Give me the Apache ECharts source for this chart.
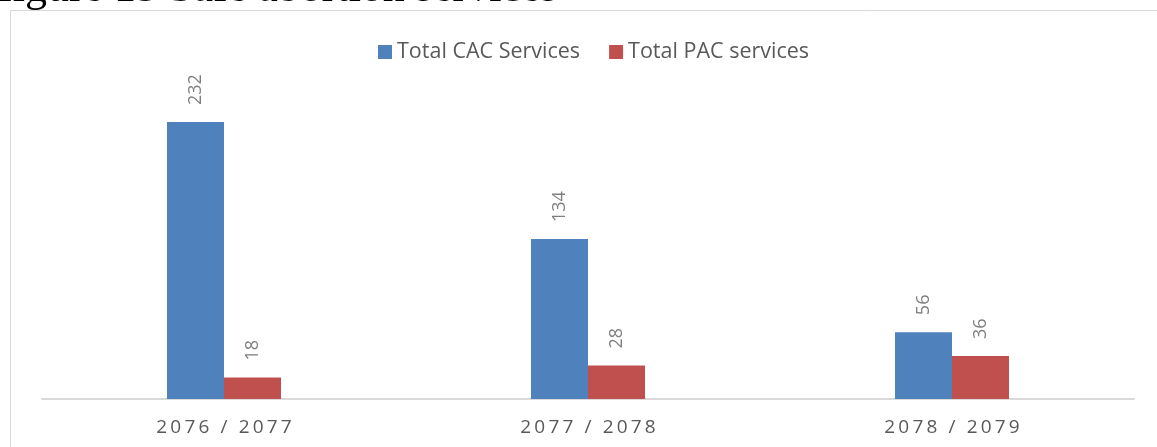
<!DOCTYPE html>
<html>
<head>
<meta charset="utf-8">
<script src="https://cdn.jsdelivr.net/npm/echarts@6/dist/echarts.min.js"></script>
<style>
html,body{margin:0;padding:0;background:#fff;}
#chart{width:1157px;height:447px;}
</style>
</head>
<body>
<div id="chart"></div>
<script>
const titleText = 'figure 15 Safe abortion services';
const categories = ['2076 / 2077', '2077 / 2078', '2078 / 2079'];
const cacValues = [232, 134, 56];
const pacValues = [18, 28, 36];
const seriesNames = ['Total CAC Services', 'Total PAC services'];

const chart = echarts.init(document.getElementById('chart'), null, {renderer: 'canvas'});
const labelCfg = {
  show: true,
  position: 'top',
  rotate: 90,
  align: 'left',
  verticalAlign: 'middle',
  distance: 17,
  color: '#7f7f7f',
  fontSize: 18,
  fontFamily: 'Open Sans, Noto Sans, sans-serif'
};
chart.setOption({
  animation: false,
  backgroundColor: '#fff',
  graphic: [
    {type: 'polyline', shape: {points: [[10.5, 447], [10.5, 10.5], [1157, 10.5]]},
     style: {stroke: '#d9d9d9', lineWidth: 1, fill: null}, z: 0},
    {type: 'text', left: -2, top: -33,
     style: {text: titleText, font: '44px "Liberation Serif", "DejaVu Serif", serif', fill: '#000'}}
  ],
  legend: {
    data: seriesNames,
    top: 36,
    left: 373,
    itemWidth: 14,
    itemHeight: 14,
    itemGap: 29,
    icon: 'rect',
    textStyle: {color: '#595959', fontSize: 21.5, fontFamily: 'Open Sans, Noto Sans, sans-serif'}
  },
  grid: {left: 42, right: 23, top: 100.5, bottom: 48, containLabel: false},
  xAxis: {
    type: 'category',
    data: categories,
    axisLine: {lineStyle: {color: '#d9d9d9', width: 2}},
    axisTick: {show: false},
    axisLabel: {
      color: '#595959', fontSize: 19, margin: 19,
      fontFamily: 'Open Sans, Noto Sans, sans-serif',
      formatter: v => v.split('').join('\u2009')
    }
  },
  yAxis: {type: 'value', min: 0, max: 250, show: false, splitLine: {show: false}},
  series: [
    {name: seriesNames[0], type: 'bar', data: cacValues, barWidth: 57, barGap: '0%',
     itemStyle: {color: '#4f81bd'}, label: labelCfg},
    {name: seriesNames[1], type: 'bar', data: pacValues, barWidth: 57, barGap: '0%',
     itemStyle: {color: '#c0504d'}, label: labelCfg}
  ]
});
</script>
</body>
</html>
